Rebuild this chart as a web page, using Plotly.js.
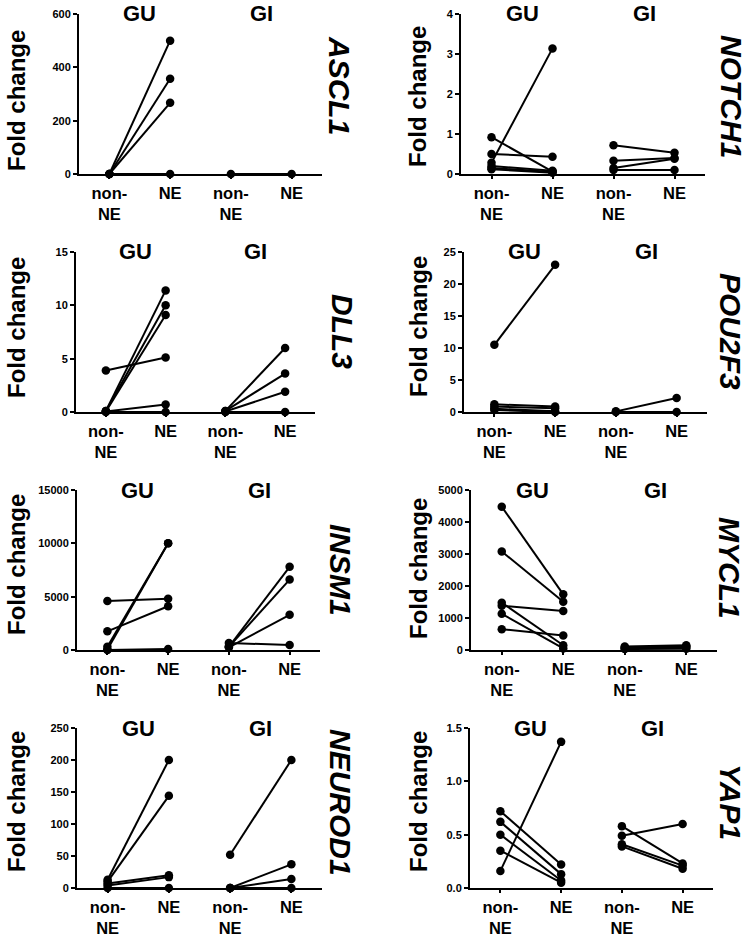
<!DOCTYPE html>
<html>
<head>
<meta charset="utf-8">
<script src="https://cdn.plot.ly/plotly-3.0.1.min.js"></script>
<style>
  html, body { margin: 0; padding: 0; background: #fff; }
  #myPlot { width: 749px; height: 936px; }
</style>
</head>
<body>
<div id="myPlot"></div>
<script>
// category tick labels and panel names
var cats = ['non-<br>NE', 'NE', 'non-<br>NE', 'NE'];
var groups = ['GU', 'GI'];
var genes = ['ASCL1', 'NOTCH1', 'DLL3', 'POU2F3', 'INSM1', 'MYCL1', 'NEUROD1', 'YAP1'];
var yMax = [600, 4, 15, 25, 15000, 5000, 250, 1.5];
var yStep = [200, 1, 5, 5, 5000, 1000, 50, 0.5];

// paired samples: value in non-NE, value in NE (same index = same pair)
var ascl1GuNon = [0, 0, 0, 0];
var ascl1GuNe = [500, 357, 267, 0];
var ascl1GiNon = [0];
var ascl1GiNe = [0];

var notch1GuNon = [0.92, 0.50, 0.28, 0.20, 0.15, 0.12];
var notch1GuNe = [0.06, 0.43, 3.14, 0.08, 0.05, 0.03];
var notch1GiNon = [0.72, 0.33, 0.15, 0.10];
var notch1GiNe = [0.53, 0.40, 0.38, 0.10];

var dll3GuNon = [3.9, 0.1, 0.1, 0.05, 0.05, 0];
var dll3GuNe = [5.1, 11.4, 10.0, 9.1, 0.7, 0];
var dll3GiNon = [0.1, 0.1, 0.05, 0];
var dll3GiNe = [6.0, 3.6, 1.9, 0];

var pou2f3GuNon = [10.5, 1.2, 0.84, 0.5, 0.3];
var pou2f3GuNe = [23.0, 0.84, 0.6, 0.1, 0];
var pou2f3GiNon = [0.1, 0];
var pou2f3GiNe = [2.2, 0];

var insm1GuNon = [4600, 1750, 300, 50, 0];
var insm1GuNe = [4800, 4100, 10000, 10000, 100];
var insm1GiNon = [300, 300, 250, 650];
var insm1GiNe = [7800, 6600, 3300, 470];

var mycl1GuNon = [4480, 3080, 1480, 1380, 1130, 650];
var mycl1GuNe = [1740, 1510, 150, 1220, 50, 450];
var mycl1GiNon = [110, 80, 50, 30];
var mycl1GiNe = [150, 120, 80, 40];

var neurod1GuNon = [13, 10, 7, 4, 0];
var neurod1GuNe = [200, 144, 20, 17, 0];
var neurod1GiNon = [52, 0, 0, 0];
var neurod1GiNe = [200, 37, 14, 0];

var yap1GuNon = [0.16, 0.72, 0.62, 0.50, 0.35];
var yap1GuNe = [1.37, 0.22, 0.13, 0.07, 0.05];
var yap1GiNon = [0.49, 0.58, 0.41, 0.39];
var yap1GiNe = [0.60, 0.23, 0.21, 0.18];

var guNon = [ascl1GuNon, notch1GuNon, dll3GuNon, pou2f3GuNon, insm1GuNon, mycl1GuNon, neurod1GuNon, yap1GuNon];
var guNe = [ascl1GuNe, notch1GuNe, dll3GuNe, pou2f3GuNe, insm1GuNe, mycl1GuNe, neurod1GuNe, yap1GuNe];
var giNon = [ascl1GiNon, notch1GiNon, dll3GiNon, pou2f3GiNon, insm1GiNon, mycl1GiNon, neurod1GiNon, yap1GiNon];
var giNe = [ascl1GiNe, notch1GiNe, dll3GiNe, pou2f3GiNe, insm1GiNe, mycl1GiNe, neurod1GiNe, yap1GiNe];

// layout: plot boxes in pixels [left, right, top, bottom]
var W = 749, H = 936;
var boxes = [
    [79, 322, 14, 174], [461, 705, 14, 174],
    [76, 315, 252, 412], [464, 707, 252, 412],
    [77, 320, 490, 650], [471, 717, 490, 650],
    [77, 322, 728, 888], [470, 713, 728, 888]
];
var foldY = [101, 97, 328, 327, 565, 569, 802, 802];
var geneXY = [[340, 85], [731, 96], [343, 331], [731, 331], [341, 570], [730, 568], [341, 802], [731, 802]];

var FONT = 'Liberation Sans, Arial, sans-serif';
var data = [];
var annotations = [];
var layout = {
    width: W,
    height: H,
    margin: { l: 0, r: 0, t: 0, b: 0 },
    paper_bgcolor: '#fff',
    plot_bgcolor: 'rgba(0,0,0,0)',
    showlegend: false,
    font: { family: FONT, color: '#000' }
};

function addPairs(i, non, ne, x0) {
    for (var k = 0; k < non.length; ++k) {
        data.push({
            x: [x0, x0 + 1],
            y: [non[k], ne[k]],
            xaxis: 'x' + (i + 1),
            yaxis: 'y' + (i + 1),
            type: 'scatter',
            mode: 'lines+markers',
            line: { color: '#000', width: 2 },
            marker: { color: '#000', size: 8.5 },
            cliponaxis: false,
            hoverinfo: 'skip'
        });
    }
}

for (var i = 0; i < genes.length; ++i) {
    var b = boxes[i];
    var n = i + 1;
    addPairs(i, guNon[i], guNe[i], 1);
    addPairs(i, giNon[i], giNe[i], 3);

    layout['xaxis' + n] = {
        domain: [b[0] / W, b[1] / W],
        anchor: 'y' + n,
        range: [0.5, 4.5],
        tickvals: [1, 2, 3, 4],
        ticktext: cats,
        ticks: 'outside',
        ticklen: 3,
        tickwidth: 2,
        tickcolor: '#000',
        showline: true,
        linewidth: 2,
        linecolor: '#000',
        showgrid: false,
        zeroline: false,
        tickfont: { family: FONT, size: 16.5, weight: 'bold', color: '#000' }
    };
    layout['yaxis' + n] = {
        domain: [1 - b[3] / H, 1 - b[2] / H],
        anchor: 'x' + n,
        range: [0, yMax[i]],
        tick0: 0,
        dtick: yStep[i],
        tickformat: yStep[i] < 1 ? '.1f' : 'd',
        ticks: 'outside',
        ticklen: 4,
        tickwidth: 2,
        tickcolor: '#000',
        showline: true,
        linewidth: 2,
        linecolor: '#000',
        showgrid: false,
        zeroline: false,
        tickfont: { family: FONT, size: 11, weight: 'bold', color: '#000' }
    };

    // GU / GI headers
    for (var g = 0; g < groups.length; ++g) {
        annotations.push({
            text: groups[g],
            xref: 'x' + n, x: 1.5 + 2 * g,
            yref: 'y' + n + ' domain', y: 1,
            xanchor: 'center', yanchor: 'middle',
            showarrow: false,
            font: { family: FONT, size: 22, weight: 'bold', color: '#000' }
        });
    }
    // y title
    annotations.push({
        text: 'Fold change',
        xref: 'paper', x: (i % 2 === 0 ? 16 : 418) / W,
        yref: 'paper', y: 1 - foldY[i] / H,
        xanchor: 'center', yanchor: 'middle',
        textangle: -90,
        showarrow: false,
        font: { family: FONT, size: 24, weight: 'bold', color: '#000' }
    });
    // gene name
    annotations.push({
        text: genes[i],
        xref: 'paper', x: geneXY[i][0] / W,
        yref: 'paper', y: 1 - geneXY[i][1] / H,
        xanchor: 'center', yanchor: 'middle',
        textangle: 90,
        showarrow: false,
        font: { family: FONT, size: 30, weight: 'bold', style: 'italic', color: '#000' }
    });
}
layout.annotations = annotations;

Plotly.newPlot('myPlot', data, layout, { staticPlot: true, displayModeBar: false });
</script>
</body>
</html>
